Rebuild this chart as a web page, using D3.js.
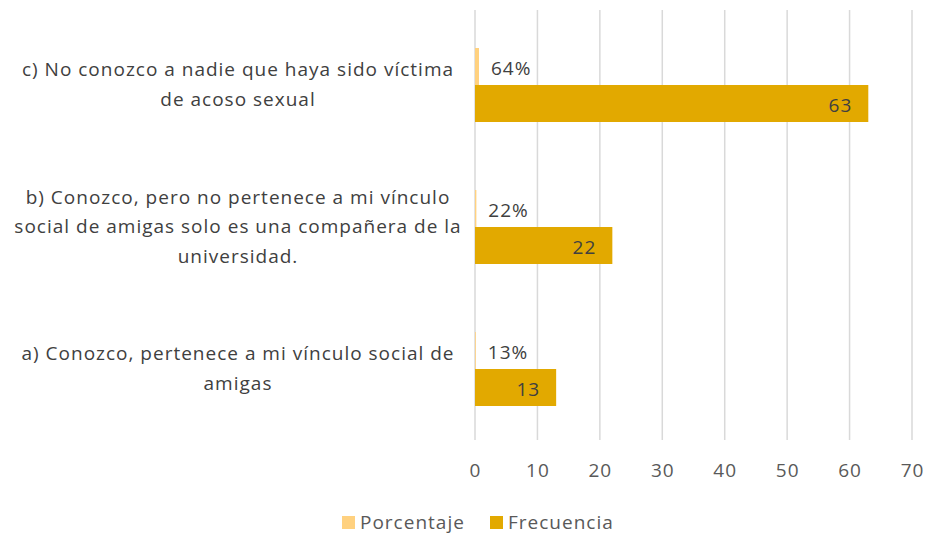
<!DOCTYPE html>
<html>
<head>
<meta charset="utf-8">
<script src="https://cdn.jsdelivr.net/npm/d3@7"></script>
<style>
  body { margin: 0; background: #fff; }
  text { font-family: "Open Sans", sans-serif; fill: #404040; font-size: 19px; letter-spacing: 1px; }
</style>
</head>
<body>
<script>
// data
var categories = [
    ["c) No conozco a nadie que haya sido víctima", "de acoso sexual"],
    ["b) Conozco, pero no pertenece a mi vínculo", "social de amigas solo es una compañera de la", "universidad."],
    ["a) Conozco, pertenece a mi vínculo social de", "amigas"]
];
var porcentaje = [0.64, 0.22, 0.13];
var porcentajeLabels = ["64%", "22%", "13%"];
var frecuencia = [63, 22, 13];
var seriesNames = ["Porcentaje", "Frecuencia"];
var xTicks = [0, 10, 20, 30, 40, 50, 60, 70];

var colors = { "Porcentaje": "#FFD17F", "Frecuencia": "#E2A900" };

var width = 926, height = 534;
var margin = { top: 14, right: 14, bottom: 94, left: 475 };

var svg = d3.select("body").append("svg")
    .attr("width", width)
    .attr("height", height);

var x = d3.scaleLinear().domain([0, 70]).range([margin.left, 912]);
var y = d3.scaleBand().domain(d3.range(categories.length))
    .range([margin.top, height - margin.bottom]);

var barH = 37;

// gridlines
svg.selectAll("line.grid")
    .data(xTicks)
    .enter().append("line")
    .attr("x1", (d) => x(d)).attr("x2", (d) => x(d))
    .attr("y1", margin.top - 4).attr("y2", height - margin.bottom)
    .attr("stroke", "#d9d9d9").attr("stroke-width", 1.5);

// tick labels
svg.selectAll("text.tick")
    .data(xTicks)
    .enter().append("text")
    .attr("x", (d) => x(d) + 0.5)
    .attr("y", 477)
    .attr("text-anchor", "middle")
    .style("fill", "#595959")
    .text((d) => d);

var groups = svg.selectAll("g.cat")
    .data(categories)
    .enter().append("g")
    .attr("transform", (d, i) => "translate(0," + (y(i) + y.bandwidth() / 2) + ")");

// porcentaje bars
groups.append("rect")
    .attr("x", x(0))
    .attr("y", -barH)
    .attr("width", (d, i) => x(porcentaje[i]) - x(0))
    .attr("height", barH)
    .attr("fill", colors["Porcentaje"]);

// frecuencia bars
groups.append("rect")
    .attr("x", x(0))
    .attr("y", 0)
    .attr("width", (d, i) => x(frecuencia[i]) - x(0))
    .attr("height", barH)
    .attr("fill", colors["Frecuencia"]);

// labels
groups.append("text")
    .attr("x", (d, i) => x(porcentaje[i]) + 12)
    .attr("y", -barH / 2 + 8.5)
    .text((d, i) => porcentajeLabels[i]);

groups.append("text")
    .attr("x", (d, i) => x(frecuencia[i]) - 16)
    .attr("y", barH / 2 + 8.5)
    .attr("text-anchor", "end")
    .text((d, i) => frecuencia[i]);

// category labels
groups.each(function (lines) {
    var g = d3.select(this);
    var n = lines.length;
    lines.forEach((line, j) => {
        g.append("text")
            .attr("x", 238)
            .attr("y", (j - (n - 1) / 2) * 29.5 + 6)
            .attr("text-anchor", "middle")
            .text(line);
    });
});

// legend
var legend = svg.selectAll("g.legend")
    .data(seriesNames)
    .enter().append("g")
    .attr("transform", (d, i) => "translate(" + (342 + i * 148) + ",516)");

legend.append("rect")
    .attr("width", 13).attr("height", 13)
    .attr("fill", (d) => colors[d]);

legend.append("text")
    .attr("x", 18).attr("y", 12.5)
    .style("fill", "#595959")
    .text((d) => d);
</script>
</body>
</html>
